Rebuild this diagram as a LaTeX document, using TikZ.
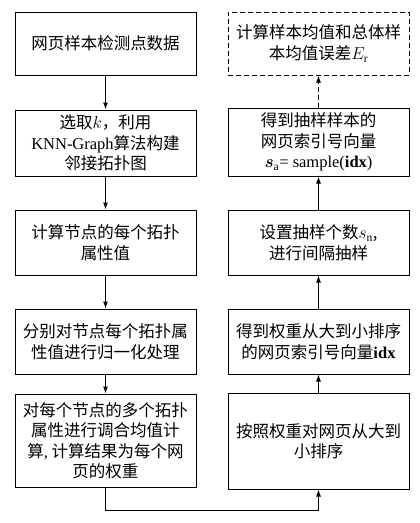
\documentclass[tikz,border=0pt]{standalone}
\usepackage{fontspec}
\usepackage{bm}
\setmainfont{Liberation Serif}
\newfontfamily\cjk{Noto Sans CJK SC}
\usetikzlibrary{arrows.meta}
\usetikzlibrary{positioning}

\begin{document}
\begin{tikzpicture}
    [x=1pt,y=-1pt,
stepbox/.style={rectangle, draw=black, line width=1pt, minimum width=181pt, inner sep=0pt, align=center, font=\cjk\fontsize{16.5}{20.5}\selectfont},
dashbox/.style={stepbox, dash pattern=on 5pt off 3pt},
flow/.style={line width=1pt, -{Latex[length=7pt,width=5pt]}}
]

\useasboundingbox (0,0) rectangle (420,523);

\node[stepbox,minimum height=63pt](box1) at (105.5,43.5){网页样本检测点数据};
\node[stepbox,minimum height=66pt](box2)[below=34pt of box1]{选取$k$，利用\\{\rmfamily KNN-Graph}算法构建\\邻接拓扑图};
\node[stepbox,minimum height=65pt](box3)[below=33pt of box2]{计算节点的每个拓扑\\属性值};
\node[stepbox,minimum height=65pt](box4)[below=33pt of box3]{分别对节点每个拓扑属\\性值进行归一化处理};
\node[stepbox,minimum height=93pt](box5)[below=19pt of box4]{对每个节点的多个拓扑\\属性进行调合均值计\\算{\rmfamily,} 计算结果为每个网\\页的权重};

\node[stepbox,minimum height=96pt](sort)[right=31pt of box5,yshift=-0.5pt]{按照权重对网页从大到\\小排序};
\node[stepbox,minimum height=65pt](index)[right=31pt of box4]{得到权重从大到小排序\\的网页索引号向量{\rmfamily\bfseries idx}};
\node[stepbox,minimum height=65pt](setn)[right=31pt of box3]{设置抽样个数$s_{\mathrm{n}}$,\\进行间隔抽样};
\node[stepbox,minimum height=68pt](sample)[right=31pt of box2,yshift=1pt]{得到抽样样本的\\网页索引号向量\\$\bm{s}_{\mathrm{a}}${\rmfamily = sample({\bfseries idx})}};
\node[dashbox,minimum height=63pt](error)[right=31pt of box1]{计算样本均值和总体样\\本均值误差$E_{\mathrm{r}}$};

\draw[flow] (box1) -- (box2);
\draw[flow] (box2) -- (box3);
\draw[flow] (box3) -- (box4);
\draw[flow] (box4) -- (box5);
\draw[flow] (box5.south) -- ++(0,23) -| (sort.south);
\draw[flow] (sort) -- (index);
\draw[flow] (index) -- (setn);
\draw[flow] (setn) -- (sample);
\draw[flow,dash pattern=on 5pt off 3pt] (sample) -- (error);

\end{tikzpicture}
\end{document}
